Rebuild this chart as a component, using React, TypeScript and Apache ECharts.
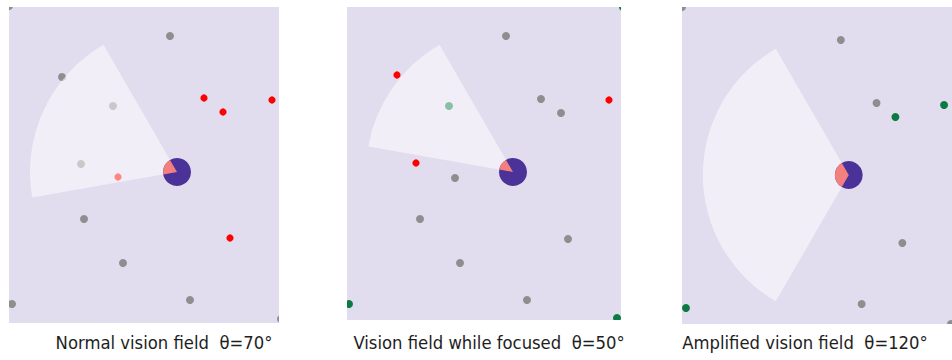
import React, { useEffect, useRef } from "react";
import * as echarts from "echarts";

// ---- data (local panel coordinates, x right, y down) ----
const panelTitles = [
  "Normal vision field  θ=70°",
  "Vision field while focused  θ=50°",
  "Amplified vision field  θ=120°",
];
const fovDegrees = [70, 50, 120];
const headingDegrees = [155, 145, 180];
const visionRadius = 147;
const agentRadius = 14;
const agentPositions = [
  [168, 165],
  [166, 165],
  [168, 168],
];

const grayPoints1 = [
  [161, 29], [53, 70], [104, 99], [72, 157], [75, 212], [114, 256],
  [3, 297], [181, 293], [272, 312], [0, -1],
];
const redPoints1 = [[109, 170], [195, 91], [214, 105], [263, 93], [221, 231]];
const greenPoints1: number[][] = [];

const grayPoints2 = [
  [159, 29], [194, 92], [214, 106], [108, 171], [73, 212], [221, 232],
  [113, 256], [180, 293],
];
const redPoints2 = [[50, 68], [262, 93], [69, 156]];
const greenPoints2 = [[102, 99], [2, 297], [270, 311], [276, 0]];

const grayPoints3 = [[0, 0], [160, 33], [196, 96], [222, 236], [181, 297], [271, 317]];
const redPoints3: number[][] = [];
const greenPoints3 = [[215, 110], [264, 98], [4, 301]];

const grayPoints = [grayPoints1, grayPoints2, grayPoints3];
const redPoints = [redPoints1, redPoints2, redPoints3];
const greenPoints = [greenPoints1, greenPoints2, greenPoints3];

// ---- layout ----
const panels = [
  { left: 9, top: 7, width: 270, height: 316 },
  { left: 347, top: 7, width: 274, height: 313 },
  { left: 682, top: 7, width: 272, height: 317 },
];
const captionX = [164, 489, 805];
const captionY = 342;

const BG = "#E1DCEE";
const GRAY = "#8E8E8E";
const RED = "#FF0000";
const GREEN = "#0B7A43";
const AGENT = "#4A3299";
const WEDGE = "#F47F7F";

const toRad = (d: number) => (d * Math.PI) / 180;

export default function App() {
  const ref = useRef<HTMLDivElement>(null);
  useEffect(() => {
    if (!ref.current) return;
    const chart = echarts.init(ref.current, undefined, { renderer: "svg" });

    const grid: any[] = [];
    const xAxis: any[] = [];
    const yAxis: any[] = [];
    const series: any[] = [];

    panels.forEach((p, i) => {
      grid.push({
        left: p.left,
        top: p.top,
        width: p.width,
        height: p.height,
        show: true,
        backgroundColor: BG,
        borderWidth: 0,
      });
      xAxis.push({ type: "value", gridIndex: i, min: 0, max: p.width, show: false });
      yAxis.push({ type: "value", gridIndex: i, min: 0, max: p.height, inverse: true, show: false });

      // points drawn as circles, graphically clipped to the panel
      const dots = (data: number[][], color: string, radius: number) => ({
        type: "custom",
        xAxisIndex: i,
        yAxisIndex: i,
        data,
        clip: true,
        silent: true,
        z: 2,
        renderItem: (params: any, api: any) => {
          const c = api.coord([api.value(0), api.value(1)]);
          const r = api.size([radius, 0])[0];
          return { type: "circle", shape: { cx: c[0], cy: c[1], r }, style: { fill: color } };
        },
      });
      series.push(dots(grayPoints[i], GRAY, 4));
      series.push(dots(redPoints[i], RED, 3.6));
      series.push(dots(greenPoints[i], GREEN, 4));

      const a1 = headingDegrees[i] - fovDegrees[i] / 2;
      const a2 = headingDegrees[i] + fovDegrees[i] / 2;

      // vision cone (translucent overlay)
      series.push({
        type: "custom",
        xAxisIndex: i,
        yAxisIndex: i,
        data: [agentPositions[i]],
        clip: true,
        silent: true,
        z: 3,
        renderItem: (params: any, api: any) => {
          const c = api.coord([api.value(0), api.value(1)]);
          const r = api.size([visionRadius, 0])[0];
          return {
            type: "sector",
            shape: {
              cx: c[0],
              cy: c[1],
              r0: 0,
              r,
              startAngle: toRad(-a2),
              endAngle: toRad(-a1),
              clockwise: true,
            },
            style: { fill: "rgba(255,255,255,0.52)" },
          };
        },
      });

      // agent
      series.push({
        type: "custom",
        xAxisIndex: i,
        yAxisIndex: i,
        data: [agentPositions[i]],
        clip: true,
        silent: true,
        z: 4,
        renderItem: (params: any, api: any) => {
          const c = api.coord([api.value(0), api.value(1)]);
          const r = api.size([agentRadius, 0])[0];
          return {
            type: "group",
            children: [
              { type: "circle", shape: { cx: c[0], cy: c[1], r }, style: { fill: AGENT } },
              {
                type: "sector",
                shape: {
                  cx: c[0],
                  cy: c[1],
                  r0: 0,
                  r,
                  startAngle: toRad(-a2),
                  endAngle: toRad(-a1),
                  clockwise: true,
                },
                style: { fill: WEDGE },
              },
            ],
          };
        },
      });
    });

    const graphic = panelTitles.map((t, i) => ({
      type: "text",
      x: captionX[i],
      y: captionY,
      style: {
        text: t,
        fill: "#1e1e1e",
        font: '18.3px "DejaVu Sans Condensed", "DejaVu Sans", sans-serif',
        align: "center",
        verticalAlign: "middle",
      },
      z: 10,
    }));

    chart.setOption({
      animation: false,
      backgroundColor: "#ffffff",
      grid,
      xAxis,
      yAxis,
      series,
      graphic,
    });
    return () => chart.dispose();
  }, []);

  return (
    <div
      ref={ref}
      style={{ position: "fixed", left: 0, top: 0, width: 952, height: 360 }}
    />
  );
}
